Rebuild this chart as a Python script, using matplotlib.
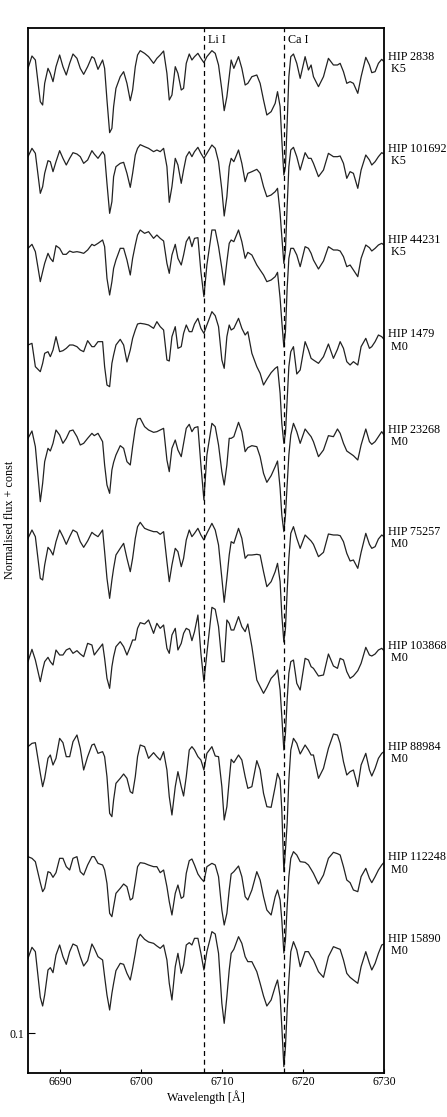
import matplotlib
matplotlib.use("Agg")
import matplotlib.pyplot as plt
import numpy as np

plt.rcParams['font.family'] = ['Liberation Serif', 'DejaVu Serif']

wavelength = [
    6686.00, 6686.49, 6686.91, 6687.52, 6687.81, 6688.06, 6688.47, 6688.76, 6689.09, 6689.46,
    6689.91, 6690.32, 6690.73, 6691.15, 6691.56, 6692.05, 6692.46, 6692.88, 6693.37, 6693.90,
    6694.19, 6694.65, 6695.22, 6695.47, 6695.76, 6696.09, 6696.37, 6696.58, 6696.87, 6697.40,
    6697.82, 6698.23, 6698.64, 6698.93, 6699.26, 6699.54, 6699.87, 6700.41, 6700.90, 6701.52,
    6701.93, 6702.34, 6702.76, 6703.17, 6703.46, 6703.79, 6704.20, 6704.53, 6704.94, 6705.23,
    6705.56, 6705.93, 6706.26, 6706.58, 6707.00, 6707.37, 6707.74, 6708.11, 6708.73, 6709.14,
    6709.55, 6709.96, 6710.25, 6710.58, 6710.87, 6711.11, 6711.44, 6712.02, 6712.43, 6712.84,
    6713.17, 6713.67, 6714.28, 6714.69, 6715.11, 6715.52, 6716.05, 6716.55, 6716.84, 6717.16,
    6717.37, 6717.62, 6717.82, 6718.03, 6718.24, 6718.48, 6718.81, 6719.22, 6719.64, 6720.25,
    6720.66, 6720.99, 6721.28, 6721.90, 6722.52, 6723.13, 6723.75, 6724.25, 6724.58, 6724.99,
    6725.40, 6725.81, 6726.22, 6726.76, 6727.17, 6727.75, 6728.20, 6728.49, 6728.90, 6729.31,
    6729.72, 6730.00]

flux_hip2838 = [
    0.915, 0.952, 0.940, 0.815, 0.805, 0.870, 0.915, 0.900, 0.875, 0.920,
    0.955, 0.920, 0.895, 0.930, 0.958, 0.945, 0.915, 0.897, 0.920, 0.950,
    0.945, 0.912, 0.940, 0.915, 0.820, 0.722, 0.735, 0.800, 0.855, 0.890,
    0.905, 0.870, 0.818, 0.850, 0.920, 0.955, 0.968, 0.960, 0.950, 0.930,
    0.945, 0.955, 0.967, 0.900, 0.820, 0.835, 0.920, 0.900, 0.850, 0.855,
    0.930, 0.958, 0.940, 0.950, 0.960, 0.945, 0.932, 0.950, 0.968, 0.960,
    0.925, 0.850, 0.788, 0.830, 0.890, 0.940, 0.915, 0.950, 0.915, 0.865,
    0.870, 0.890, 0.895, 0.870, 0.820, 0.775, 0.785, 0.810, 0.845, 0.800,
    0.700, 0.595, 0.620, 0.750, 0.890, 0.950, 0.958, 0.930, 0.885, 0.950,
    0.910, 0.925, 0.890, 0.860, 0.890, 0.945, 0.925, 0.925, 0.930, 0.905,
    0.870, 0.875, 0.870, 0.840, 0.890, 0.948, 0.925, 0.902, 0.905, 0.930,
    0.942, 0.935]

flux_hip101692 = [
    0.920, 0.945, 0.930, 0.810, 0.830, 0.870, 0.908, 0.905, 0.875, 0.905,
    0.938, 0.915, 0.895, 0.915, 0.932, 0.928, 0.920, 0.900, 0.910, 0.938,
    0.928, 0.915, 0.935, 0.925, 0.840, 0.750, 0.785, 0.860, 0.890, 0.900,
    0.903, 0.870, 0.828, 0.870, 0.925, 0.945, 0.956, 0.950, 0.945, 0.935,
    0.940, 0.935, 0.945, 0.890, 0.783, 0.830, 0.915, 0.895, 0.840, 0.880,
    0.920, 0.935, 0.920, 0.935, 0.948, 0.930, 0.915, 0.930, 0.955, 0.945,
    0.905, 0.820, 0.742, 0.800, 0.890, 0.915, 0.905, 0.940, 0.900, 0.845,
    0.870, 0.875, 0.882, 0.870, 0.830, 0.800, 0.805, 0.815, 0.825, 0.750,
    0.680, 0.600, 0.640, 0.770, 0.890, 0.940, 0.948, 0.920, 0.880, 0.932,
    0.915, 0.915, 0.900, 0.860, 0.880, 0.930, 0.920, 0.920, 0.922, 0.900,
    0.855, 0.875, 0.870, 0.825, 0.880, 0.925, 0.910, 0.895, 0.905, 0.920,
    0.932, 0.928]

flux_hip44231 = [
    0.900, 0.912, 0.890, 0.800, 0.830, 0.855, 0.885, 0.870, 0.860, 0.908,
    0.900, 0.882, 0.882, 0.892, 0.888, 0.890, 0.888, 0.885, 0.895, 0.912,
    0.908, 0.915, 0.925, 0.905, 0.810, 0.760, 0.800, 0.840, 0.865, 0.900,
    0.900, 0.865, 0.820, 0.870, 0.910, 0.940, 0.955, 0.945, 0.950, 0.930,
    0.940, 0.930, 0.922, 0.855, 0.825, 0.880, 0.912, 0.870, 0.850, 0.880,
    0.920, 0.935, 0.905, 0.930, 0.932, 0.830, 0.755, 0.850, 0.955, 0.955,
    0.905, 0.840, 0.790, 0.860, 0.915, 0.925, 0.920, 0.955, 0.920, 0.870,
    0.888, 0.880, 0.850, 0.835, 0.820, 0.800, 0.805, 0.815, 0.828, 0.750,
    0.680, 0.604, 0.650, 0.780, 0.870, 0.900, 0.900, 0.880, 0.845, 0.905,
    0.900, 0.885, 0.865, 0.838, 0.862, 0.905, 0.895, 0.895, 0.892, 0.875,
    0.845, 0.850, 0.835, 0.815, 0.870, 0.910, 0.902, 0.892, 0.900, 0.910,
    0.915, 0.910]

flux_hip1479 = [
    0.865, 0.870, 0.800, 0.785, 0.810, 0.840, 0.845, 0.830, 0.850, 0.890,
    0.845, 0.848, 0.855, 0.865, 0.865, 0.860, 0.850, 0.845, 0.878, 0.860,
    0.860, 0.875, 0.875, 0.800, 0.745, 0.740, 0.810, 0.835, 0.865, 0.882,
    0.865, 0.814, 0.850, 0.885, 0.910, 0.928, 0.930, 0.928, 0.925, 0.915,
    0.935, 0.920, 0.910, 0.820, 0.817, 0.890, 0.920, 0.855, 0.860, 0.900,
    0.925, 0.905, 0.905, 0.928, 0.945, 0.915, 0.900, 0.925, 0.965, 0.953,
    0.920, 0.820, 0.795, 0.890, 0.925, 0.910, 0.915, 0.945, 0.915, 0.895,
    0.905, 0.840, 0.800, 0.780, 0.745, 0.762, 0.782, 0.795, 0.800, 0.720,
    0.630, 0.570, 0.600, 0.700, 0.800, 0.845, 0.860, 0.778, 0.790, 0.875,
    0.850, 0.825, 0.820, 0.810, 0.830, 0.868, 0.825, 0.852, 0.875, 0.855,
    0.815, 0.805, 0.815, 0.805, 0.860, 0.885, 0.855, 0.860, 0.875, 0.895,
    0.890, 0.882]

flux_hip23268 = [
    0.900, 0.922, 0.875, 0.710, 0.765, 0.830, 0.870, 0.862, 0.885, 0.925,
    0.910, 0.885, 0.900, 0.922, 0.925, 0.905, 0.880, 0.885, 0.900, 0.915,
    0.908, 0.915, 0.890, 0.820, 0.760, 0.735, 0.805, 0.828, 0.850, 0.878,
    0.870, 0.830, 0.820, 0.875, 0.930, 0.958, 0.960, 0.935, 0.925, 0.918,
    0.920, 0.925, 0.930, 0.835, 0.800, 0.870, 0.895, 0.865, 0.845, 0.885,
    0.930, 0.942, 0.920, 0.932, 0.935, 0.820, 0.715, 0.850, 0.945, 0.935,
    0.880, 0.800, 0.760, 0.820, 0.900, 0.900, 0.905, 0.948, 0.920, 0.860,
    0.872, 0.878, 0.875, 0.845, 0.795, 0.768, 0.788, 0.815, 0.832, 0.750,
    0.670, 0.620, 0.670, 0.760, 0.850, 0.910, 0.945, 0.920, 0.885, 0.928,
    0.915, 0.905, 0.890, 0.845, 0.865, 0.908, 0.905, 0.928, 0.915, 0.885,
    0.862, 0.855, 0.848, 0.835, 0.880, 0.928, 0.890, 0.882, 0.890, 0.905,
    0.920, 0.910]

flux_hip75257 = [
    0.930, 0.955, 0.935, 0.810, 0.805, 0.850, 0.903, 0.895, 0.880, 0.920,
    0.955, 0.935, 0.912, 0.935, 0.955, 0.948, 0.920, 0.903, 0.922, 0.948,
    0.942, 0.935, 0.955, 0.890, 0.810, 0.750, 0.805, 0.840, 0.880, 0.900,
    0.915, 0.870, 0.830, 0.870, 0.930, 0.965, 0.978, 0.960, 0.955, 0.950,
    0.950, 0.942, 0.950, 0.860, 0.800, 0.850, 0.900, 0.890, 0.845, 0.870,
    0.925, 0.955, 0.935, 0.945, 0.960, 0.940, 0.925, 0.945, 0.975, 0.955,
    0.910, 0.810, 0.738, 0.810, 0.880, 0.920, 0.915, 0.960, 0.930, 0.870,
    0.880, 0.880, 0.882, 0.880, 0.830, 0.785, 0.800, 0.830, 0.855, 0.800,
    0.700, 0.619, 0.660, 0.770, 0.870, 0.945, 0.965, 0.930, 0.900, 0.940,
    0.930, 0.922, 0.912, 0.875, 0.888, 0.943, 0.940, 0.940, 0.938, 0.920,
    0.885, 0.862, 0.865, 0.840, 0.888, 0.945, 0.912, 0.900, 0.905, 0.928,
    0.940, 0.935]

flux_hip103868 = [
    0.815, 0.852, 0.820, 0.755, 0.790, 0.815, 0.828, 0.815, 0.805, 0.850,
    0.835, 0.835, 0.850, 0.855, 0.840, 0.848, 0.838, 0.830, 0.870, 0.865,
    0.835, 0.850, 0.868, 0.825, 0.765, 0.735, 0.800, 0.830, 0.860, 0.875,
    0.860, 0.835, 0.860, 0.880, 0.880, 0.915, 0.932, 0.928, 0.940, 0.900,
    0.930, 0.915, 0.925, 0.855, 0.840, 0.895, 0.915, 0.850, 0.870, 0.900,
    0.915, 0.910, 0.878, 0.905, 0.955, 0.840, 0.755, 0.840, 0.978, 0.972,
    0.920, 0.815, 0.815, 0.940, 0.930, 0.910, 0.910, 0.950, 0.920, 0.905,
    0.928, 0.860, 0.760, 0.740, 0.720, 0.738, 0.765, 0.778, 0.790, 0.730,
    0.650, 0.550, 0.600, 0.700, 0.780, 0.815, 0.820, 0.750, 0.730, 0.825,
    0.820, 0.800, 0.795, 0.772, 0.775, 0.838, 0.802, 0.795, 0.825, 0.820,
    0.785, 0.765, 0.772, 0.788, 0.810, 0.858, 0.835, 0.832, 0.838, 0.850,
    0.855, 0.848]

flux_hip88984 = [
    0.830, 0.840, 0.842, 0.750, 0.710, 0.735, 0.795, 0.805, 0.775, 0.795,
    0.855, 0.842, 0.800, 0.800, 0.845, 0.865, 0.825, 0.760, 0.800, 0.835,
    0.838, 0.810, 0.815, 0.800, 0.740, 0.630, 0.620, 0.670, 0.720, 0.735,
    0.748, 0.735, 0.695, 0.690, 0.740, 0.800, 0.835, 0.830, 0.795, 0.812,
    0.800, 0.790, 0.815, 0.760, 0.680, 0.625, 0.710, 0.755, 0.710, 0.682,
    0.740, 0.820, 0.830, 0.820, 0.800, 0.790, 0.760, 0.810, 0.830, 0.802,
    0.800, 0.710, 0.610, 0.650, 0.730, 0.792, 0.782, 0.805, 0.790, 0.740,
    0.705, 0.710, 0.788, 0.760, 0.690, 0.650, 0.648, 0.710, 0.750, 0.730,
    0.640, 0.455, 0.520, 0.600, 0.730, 0.820, 0.855, 0.840, 0.808, 0.835,
    0.820, 0.805, 0.805, 0.735, 0.765, 0.825, 0.868, 0.865, 0.840, 0.785,
    0.745, 0.755, 0.760, 0.710, 0.775, 0.810, 0.760, 0.742, 0.765, 0.795,
    0.810, 0.815]

flux_hip112248 = [
    0.880, 0.875, 0.865, 0.802, 0.775, 0.785, 0.835, 0.832, 0.818, 0.832,
    0.875, 0.875, 0.850, 0.840, 0.875, 0.880, 0.835, 0.825, 0.855, 0.880,
    0.880, 0.860, 0.855, 0.840, 0.800, 0.710, 0.700, 0.730, 0.770, 0.785,
    0.798, 0.790, 0.750, 0.755, 0.805, 0.850, 0.862, 0.860, 0.855, 0.850,
    0.850, 0.832, 0.840, 0.790, 0.745, 0.705, 0.770, 0.795, 0.755, 0.760,
    0.830, 0.868, 0.873, 0.855, 0.828, 0.815, 0.805, 0.850, 0.860, 0.855,
    0.820, 0.720, 0.675, 0.710, 0.780, 0.828, 0.835, 0.852, 0.820, 0.760,
    0.750, 0.780, 0.835, 0.810, 0.760, 0.720, 0.705, 0.760, 0.780, 0.750,
    0.690, 0.591, 0.630, 0.730, 0.820, 0.875, 0.895, 0.885, 0.865, 0.863,
    0.855, 0.842, 0.830, 0.798, 0.825, 0.875, 0.893, 0.889, 0.885, 0.850,
    0.810, 0.802, 0.780, 0.775, 0.820, 0.845, 0.815, 0.802, 0.820, 0.840,
    0.855, 0.863]

flux_hip15890 = [
    0.885, 0.918, 0.905, 0.768, 0.742, 0.775, 0.850, 0.857, 0.842, 0.895,
    0.925, 0.890, 0.867, 0.905, 0.928, 0.922, 0.890, 0.862, 0.878, 0.928,
    0.915, 0.890, 0.880, 0.830, 0.775, 0.730, 0.780, 0.810, 0.848, 0.870,
    0.867, 0.840, 0.820, 0.855, 0.900, 0.942, 0.957, 0.942, 0.934, 0.930,
    0.922, 0.915, 0.925, 0.880, 0.810, 0.760, 0.860, 0.900, 0.840, 0.865,
    0.925, 0.932, 0.925, 0.945, 0.945, 0.900, 0.850, 0.905, 0.965, 0.958,
    0.900, 0.750, 0.690, 0.770, 0.850, 0.900, 0.912, 0.950, 0.930, 0.890,
    0.875, 0.875, 0.845, 0.810, 0.772, 0.742, 0.760, 0.800, 0.820, 0.770,
    0.680, 0.560, 0.620, 0.730, 0.820, 0.905, 0.935, 0.910, 0.860, 0.905,
    0.905, 0.890, 0.880, 0.845, 0.828, 0.890, 0.920, 0.915, 0.912, 0.880,
    0.840, 0.828, 0.820, 0.810, 0.860, 0.905, 0.870, 0.850, 0.870, 0.900,
    0.925, 0.928]

star_names = ["HIP 2838", "HIP 101692", "HIP 44231", "HIP 1479", "HIP 23268",
              "HIP 75257", "HIP 103868", "HIP 88984", "HIP 112248", "HIP 15890"]
spectral_types = ["K5", "K5", "K5", "M0", "M0", "M0", "M0", "M0", "M0", "M0"]
offsets = [2.079, 1.809, 1.554, 1.299, 0.984, 0.654, 0.399, 0.129, -0.251, -0.561]
fluxes = [flux_hip2838, flux_hip101692, flux_hip44231, flux_hip1479, flux_hip23268,
          flux_hip75257, flux_hip103868, flux_hip88984, flux_hip112248, flux_hip15890]

line_names = ["Li I", "Ca I"]
line_wavelengths = [6707.76, 6717.68]

xticks = [6690, 6700, 6710, 6720, 6730]
yticks = [0.1]

W, H = 447, 1117
fig = plt.figure(figsize=(W / 100, H / 100), dpi=100)
ax = fig.add_axes([28 / W, 1 - 1073 / H, 356 / W, 1045 / H])

wl = np.array(wavelength)
for name, sp, off, fl in zip(star_names, spectral_types, offsets, fluxes):
    y = np.array(fl) + off
    ax.plot(wl, y, color='#222222', lw=0.9)
    ax.annotate(f"{name}\n {sp}", xy=(1.0, y[-1]), xycoords=('axes fraction', 'data'),
                xytext=(4, 11), textcoords='offset pixels', ha='left', va='top',
                fontsize=8.7, linespacing=1.05, annotation_clip=False)

for lname, lw_ in zip(line_names, line_wavelengths):
    ax.axvline(lw_, color='k', lw=0.9, ls=(0, (4, 3)))
    ax.text(lw_ + 0.5, 0.9885, lname, transform=ax.get_xaxis_transform(),
            ha='left', va='center', fontsize=8.7)

ax.set_xlim(6686, 6730)
ax.set_ylim(-0.02, 3.115)
ax.set_xticks(xticks)
ax.set_xticklabels([str(t) for t in xticks], fontsize=8.5)
ax.set_yticks(yticks)
ax.set_yticklabels(["0.1"], fontsize=8.5)
ax.tick_params(axis='x', direction='in', length=3, pad=2)
ax.tick_params(axis='y', direction='in', length=5, pad=3)
for s in ax.spines.values():
    s.set_linewidth(1.3)

ax.set_xlabel("Wavelength [Å]", fontsize=8.7, labelpad=2)
ax.set_ylabel("Normalised flux + const", fontsize=8.7)
ax.yaxis.set_label_coords(-0.033, 0.529)

fig.savefig("out.png", dpi=100)
